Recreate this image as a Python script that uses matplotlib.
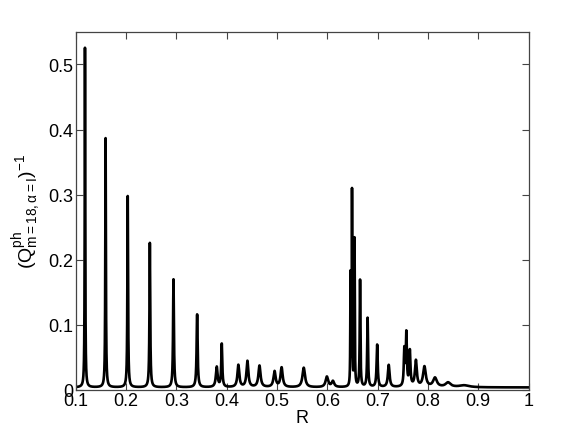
import numpy as np
import matplotlib
matplotlib.use("Agg")
import matplotlib.pyplot as plt

# peaks: position in R, height, half-width
peak_r = [0.118, 0.159, 0.203, 0.247, 0.294, 0.341, 0.380, 0.390, 0.423, 0.441,
          0.465, 0.495, 0.509, 0.553, 0.599, 0.611,
          0.646, 0.649, 0.654, 0.665, 0.680, 0.699, 0.722,
          0.753, 0.757, 0.764, 0.776, 0.793, 0.814, 0.840, 0.872]
peak_h = [0.522, 0.383, 0.294, 0.222, 0.166, 0.112, 0.031, 0.066, 0.034, 0.040,
          0.033, 0.024, 0.030, 0.030, 0.016, 0.009,
          0.170, 0.298, 0.226, 0.164, 0.106, 0.065, 0.034,
          0.055, 0.080, 0.054, 0.040, 0.031, 0.014, 0.007, 0.003]
peak_w = [0.0006, 0.0007, 0.0008, 0.0009, 0.0010, 0.0012, 0.0020, 0.0012, 0.0022, 0.0022,
          0.0025, 0.0025, 0.0025, 0.0030, 0.0030, 0.0030,
          0.0005, 0.0005, 0.0006, 0.0008, 0.0010, 0.0013, 0.0020,
          0.0012, 0.0012, 0.0014, 0.0022, 0.0032, 0.0045, 0.0060, 0.0120]
baseline = 0.0035

x_ticks = [0.1, 0.2, 0.3, 0.4, 0.5, 0.6, 0.7, 0.8, 0.9, 1]
x_ticklabels = ["0.1", "0.2", "0.3", "0.4", "0.5", "0.6", "0.7", "0.8", "0.9", "1"]
y_ticks = [0, 0.1, 0.2, 0.3, 0.4, 0.5]
y_ticklabels = ["0", "0.1", "0.2", "0.3", "0.4", "0.5"]

plt.rcParams["font.family"] = ["Liberation Sans", "DejaVu Sans"]
plt.rcParams["mathtext.fontset"] = "custom"
plt.rcParams["mathtext.rm"] = "Liberation Sans"
plt.rcParams["mathtext.it"] = "Liberation Sans:italic"

# resonance curve: sum of lorentzian peaks on a small background
R = np.linspace(0.1, 1.0, 40001)
Q = np.full_like(R, baseline)
for r0, h, w in zip(peak_r, peak_h, peak_w):
    Q += h * w**2 / ((R - r0)**2 + w**2)

fig = plt.figure(figsize=(5.84, 4.39), dpi=100)
ax = fig.add_axes([0.13, 0.11, 0.775, 0.815])
ax.plot(R, Q, color="black", linewidth=1.9)

ax.set_xlim(0.1, 1)
ax.set_ylim(0, 0.55)
ax.set_xticks(x_ticks)
ax.set_xticklabels(x_ticklabels)
ax.set_yticks(y_ticks)
ax.set_yticklabels(y_ticklabels)
ax.tick_params(direction="in", length=5, width=0.8, labelsize=13,
               top=True, right=True, color="#444444", pad=2)
for s in ax.spines.values():
    s.set_color("#444444")
    s.set_linewidth(0.9)

ax.set_xlabel("R", fontsize=13, labelpad=0)
ax.set_ylabel(r"$(\mathrm{Q}^{\mathrm{ph}}_{\mathrm{m=18,α=I}})^{-1}$", fontsize=14, labelpad=3)

fig.savefig("out.png", dpi=100)
